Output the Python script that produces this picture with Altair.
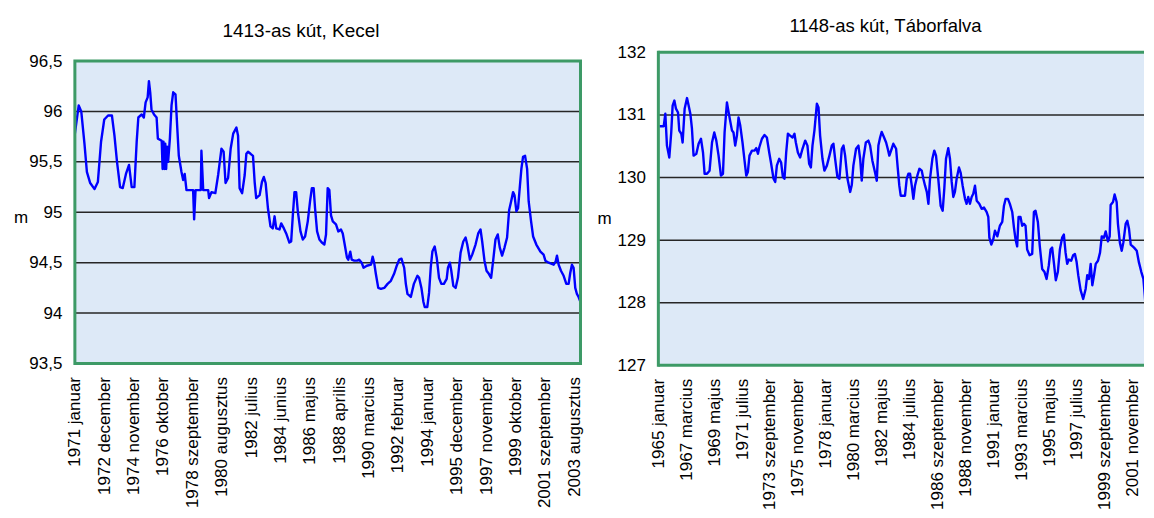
import json
import altair as alt
import pandas as pd

FONT = "Liberation Sans"
BG = "#dde9f7"
GREEN = "#3d9a66"
GRID = "#262626"

LEFT_TITLE = "1413-as kút, Kecel"
RIGHT_TITLE = "1148-as kút, Táborfalva"

LEFT_TICK_LABELS = ["1971 januar", "1972 december", "1974 november", "1976 oktober",
                    "1978 szeptember", "1980 augusztus", "1982 julius", "1984 junius",
                    "1986 majus", "1988 aprilis", "1990 marcius", "1992 februar",
                    "1994 januar", "1995 december", "1997 november", "1999 oktober",
                    "2001 szeptember", "2003 augusztus"]
RIGHT_TICK_LABELS = ["1965 januar", "1967 marcius", "1969 majus", "1971 julius",
                     "1973 szeptember", "1975 november", "1978 januar", "1980 marcius",
                     "1982 majus", "1984 julius", "1986 szeptember", "1988 november",
                     "1991 januar", "1993 marcius", "1995 majus", "1997 julius",
                     "1999 szeptember", "2001 november"]
LEFT_LABEL_STEP = 23   # months between labels
RIGHT_LABEL_STEP = 26

LEFT_Y_TICKS = [93.5, 94, 94.5, 95, 95.5, 96, 96.5]
RIGHT_Y_TICKS = [127, 128, 129, 130, 131, 132]

# months since 1971 januar, water level (m)
LEFT_MONTH = [0, 3, 5, 7.5, 9.4, 12, 15.4, 18, 20.5, 23, 26, 29, 31, 33, 35.4, 37.5, 40, 42.4,
              44.5, 46.6, 48.4, 49.7, 52.3, 54, 55.4, 57, 58, 59, 60, 62, 64, 65, 68, 68.7,
              69.4, 70.1, 70.8, 71.5, 72.2, 73, 74.4, 75.7, 77, 78.8, 80.4, 81.4, 83.5, 84.8,
              86, 87.4, 92.6, 93.4, 94.5, 98.6, 99.1, 100.5, 104.4, 105.1, 107, 110, 112.2,
              114.8, 116.5, 118, 120, 122, 124, 126.5, 127.8, 129, 131, 133, 134.3, 135.6,
              137.6, 139.5, 140.8, 142, 144.7, 146.5, 148, 149.4, 151.2, 153.2, 155, 156.4,
              157.7, 160.3, 161.6, 163.7, 165.5, 168, 169.4, 170.7, 172, 173.3, 174.6, 176.7,
              178.5, 180.3, 182.4, 184.2, 185.6, 187, 188.1, 189.7, 191.5, 193.4, 195.4,
              196.7, 198, 199.3, 200.6, 202, 204.5, 206.3, 208.4, 209.8, 211.6, 213.1, 214.1,
              215.7, 216.8, 218.8, 221, 222.7, 224.6, 226.1, 228.7, 231.9, 233.2, 234.4,
              235.7, 237.6, 239.7, 242.3, 244.9, 247.5, 250, 252.1, 254, 255.8, 257.9, 259.2,
              260.5, 263.1, 265.5, 268.3, 269.6, 271.4, 273, 274, 276, 277.4, 278.7, 280,
              281.8, 283.4, 285.2, 287, 289, 291.2, 292.2, 293.7, 294.8, 296.4, 298.2, 300,
              302.1, 304.2, 306, 307.3, 309.4, 311.2, 313.8, 315.9, 317.7, 319, 320.8, 322.4,
              324.2, 326, 327.6, 329.4, 331.2, 332.8, 334.6, 336.5, 338.5, 340.1, 341.7,
              343.2, 344.3, 345.8, 347.1, 348.4, 349.7, 351, 352.6, 354.2, 355.4, 357.3,
              358.9, 361.4, 364.6, 367.1, 368.5, 371.1, 375, 376.5, 377.6, 378.9, 380.7,
              382.8, 384.9, 386.7, 388, 389.3, 390.6, 391.9, 393.2, 394.5, 396.3]
LEFT_LEVEL = [95.78, 96.06, 96.00, 95.68, 95.40, 95.29, 95.23, 95.30, 95.70, 95.92, 95.96, 95.96,
              95.76, 95.50, 95.25, 95.24, 95.38, 95.47, 95.25, 95.25, 95.70, 95.94, 95.97, 95.94,
              96.09, 96.14, 96.30, 96.19, 96.02, 95.97, 95.94, 95.73, 95.71, 95.43, 95.70,
              95.43, 95.68, 95.43, 95.65, 95.50, 95.73, 96.06, 96.19, 96.17, 95.79, 95.56,
              95.40, 95.32, 95.38, 95.22, 95.22, 94.93, 95.22, 95.22, 95.61, 95.22, 95.22,
              95.14, 95.20, 95.19, 95.37, 95.63, 95.60, 95.29, 95.34, 95.63, 95.78, 95.84,
              95.76, 95.24, 95.19, 95.37, 95.58, 95.60, 95.58, 95.56, 95.30, 95.14, 95.17,
              95.30, 95.35, 95.29, 95.04, 94.86, 94.84, 94.96, 94.84, 94.83, 94.89, 94.84,
              94.79, 94.70, 94.71, 94.97, 95.20, 95.20, 95.01, 94.81, 94.73, 94.76, 94.91,
              95.11, 95.24, 95.24, 95.04, 94.81, 94.73, 94.70, 94.68, 94.78, 95.24, 95.22,
              94.97, 94.91, 94.88, 94.81, 94.83, 94.79, 94.66, 94.55, 94.53, 94.61, 94.53,
              94.52, 94.52, 94.53, 94.50, 94.45, 94.47, 94.48, 94.56, 94.50, 94.39, 94.25,
              94.24, 94.25, 94.29, 94.32, 94.39, 94.47, 94.53, 94.54, 94.45, 94.29, 94.19,
              94.16, 94.29, 94.37, 94.35, 94.25, 94.11, 94.06, 94.06, 94.20, 94.45, 94.61,
              94.66, 94.55, 94.35, 94.29, 94.29, 94.34, 94.45, 94.50, 94.42, 94.27, 94.25,
              94.35, 94.60, 94.71, 94.75, 94.68, 94.53, 94.58, 94.68, 94.79, 94.83, 94.71,
              94.52, 94.42, 94.39, 94.35, 94.52, 94.73, 94.78, 94.65, 94.57, 94.65, 94.75,
              95.02, 95.11, 95.20, 95.17, 95.01, 95.04, 95.24, 95.43, 95.55, 95.56, 95.43,
              95.11, 94.91, 94.76, 94.68, 94.61, 94.58, 94.52, 94.50, 94.48, 94.51, 94.57,
              94.48, 94.42, 94.37, 94.29, 94.29, 94.40, 94.48, 94.45, 94.25, 94.19, 94.16,
              94.10]

# months since 1965 januar, water level (m)
RIGHT_MONTH = [1, 5, 6.5, 8, 10.2, 12, 13.3, 14.9, 16.4, 18.3, 19.5, 21.4, 22.6, 24.5, 26.7,
               28.2, 29.8, 31.3, 32.8, 35.4, 37.5, 39.7, 41.6, 43.1, 45.3, 47.7, 50, 52.1, 54,
               56.1, 58.3, 60.2, 61.7, 63.9, 66, 68.6, 70, 71.6, 73.2, 74.7, 76.3, 78.4, 80.3,
               81.9, 83.4, 84.9, 87.2, 89.6, 91.2, 92.8, 94, 96.5, 98.9, 101.1, 103.3, 105.1,
               107.3, 108.9, 110.4, 112.6, 114.4, 116, 117.5, 119.1, 120.7, 122.8, 125, 126.8,
               128.1, 130, 132.1, 134.3, 136.8, 138.9, 140.5, 142.1, 143.6, 145.4, 147.7,
               149.2, 150.7, 152.9, 154.7, 157, 159.4, 161.6, 163.1, 164.7, 166.8, 168.7,
               170.9, 172.5, 174, 176.2, 178.7, 180.2, 181.7, 184.2, 186.4, 188, 189.5, 191,
               193.3, 195.7, 197.3, 199.4, 201.9, 203.5, 205, 206.6, 208.1, 210.3, 212.2,
               213.7, 215.2, 217.4, 218.9, 221.5, 223, 224.5, 225.8, 229.8, 231.4, 232.9,
               234.5, 236.1, 237.6, 239.1, 241.3, 243.2, 245.4, 246.9, 248.5, 250.1, 251.6,
               253.1, 255.3, 257.1, 258.7, 260.8, 263, 264.9, 266.4, 268, 270.1, 271.7, 273.3,
               274.8, 276.3, 277.9, 280.1, 281.6, 283.5, 285.7, 287.2, 288.7, 290.3, 291.9,
               293.4, 295, 296.6, 299, 301.2, 303.4, 305.8, 307.4, 308.4, 310.2, 312, 313.6,
               315.8, 318.2, 320.4, 322, 323.6, 325.7, 327.5, 329.7, 331.3, 332.8, 334.3,
               335.6, 337.4, 339, 340.6, 342.1, 343.6, 345.9, 348.3, 349.9, 351.4, 353.6,
               355.4, 357.6, 359.8, 361.7, 363.8, 365.4, 366.9, 368.5, 370.3, 372.2, 374.1,
               376.2, 377.8, 379.4, 380.9, 382.5, 384.6, 386.5, 388.1, 389.7, 391.2, 393.4,
               395.8, 398.1, 399.6, 401.2, 402.8, 404.3, 405.9, 407.5, 409.6, 411.5, 413.1,
               415.2, 416.8, 418.9, 420.5, 421.4, 423.6, 425.1, 427, 428.2, 430, 431.7, 433.2,
               435.4, 436.9, 438.5, 440.1, 443.2, 445.7, 447.8, 450, 451.9, 453.2, 454.7,
               456.6, 458.1, 459.3, 460.6, 461.8]
RIGHT_LEVEL = [130.82, 130.82, 131.02, 130.51, 130.32, 130.72, 131.15, 131.23, 131.10, 131.04,
               130.75, 130.70, 130.56, 131.10, 131.27, 131.15, 131.02, 130.78, 130.35, 130.38,
               130.54, 130.62, 130.40, 130.06, 130.06, 130.11, 130.56, 130.72, 130.59, 130.35,
               130.03, 130.06, 130.72, 131.20, 130.99, 130.75, 130.72, 130.51, 130.67, 130.96,
               130.83, 130.56, 130.27, 130.03, 130.09, 130.35, 130.43, 130.43, 130.47, 130.38,
               130.48, 130.62, 130.68, 130.64, 130.40, 130.22, 129.98, 129.93, 130.19, 130.30,
               130.24, 130.01, 129.98, 130.40, 130.70, 130.67, 130.64, 130.70, 130.56, 130.40,
               130.32, 130.46, 130.59, 130.51, 130.22, 130.16, 130.51, 130.75, 131.18, 131.12,
               130.67, 130.30, 130.11, 130.19, 130.35, 130.51, 130.54, 130.30, 130.01, 129.98,
               130.46, 130.51, 130.35, 129.98, 129.77, 129.88, 130.19, 130.46, 130.51, 130.30,
               129.95, 130.30, 130.56, 130.59, 130.51, 130.27, 130.08, 129.95, 130.51, 130.64,
               130.73, 130.64, 130.56, 130.46, 130.35, 130.46, 130.54, 130.46, 130.16, 129.87,
               129.71, 129.71, 129.98, 130.06, 130.06, 129.87, 129.66, 129.87, 130.03, 130.14,
               130.11, 129.98, 129.87, 129.77, 129.58, 129.98, 130.30, 130.43, 130.35, 129.98,
               129.55, 129.47, 129.82, 130.30, 130.47, 130.30, 129.93, 129.69, 129.77, 129.98,
               130.16, 130.08, 129.87, 129.66, 129.58, 129.69, 129.58, 129.69, 129.74, 129.87,
               129.63, 129.58, 129.50, 129.52, 129.45, 129.37, 129.04, 128.93, 129.01, 129.15,
               129.06, 129.23, 129.29, 129.55, 129.66, 129.66, 129.58, 129.45, 129.20, 129.01,
               128.90, 129.37, 129.37, 129.23, 129.26, 129.23, 128.85, 128.76, 128.78, 129.45,
               129.47, 129.29, 128.90, 128.54, 128.49, 128.38, 128.60, 128.85, 128.88, 128.64,
               128.36, 128.49, 128.85, 129.04, 129.09, 128.80, 128.62, 128.69, 128.67, 128.76,
               128.78, 128.65, 128.44, 128.20, 128.06, 128.22, 128.44, 128.38, 128.62, 128.28,
               128.44, 128.62, 128.67, 128.80, 129.06, 129.04, 129.14, 128.98, 129.06, 129.56,
               129.61, 129.73, 129.61, 129.26, 128.96, 128.83, 128.96, 129.26, 129.31, 129.18,
               128.93, 128.88, 128.83, 128.64, 128.49, 128.38, 128.12, 127.77, 127.64, 127.66,
               128.06, 128.12, 127.90]

# left view: 506.5 wide, frame inset 8.7 px below the shared top edge
LW, LH, L_TOP = 506.5, 311.7, 8.7
RW, RH, R_TOP = 486.5, 313.5, 0
PX_PER_MONTH_R = 1.0752


def label_expr(labels, step):
    return f"{json.dumps(labels)}[round(datum.value / {step})]"


def panel(months, levels, x_domain, tick_labels, step, y_ticks, y_expr,
          title, title_size, title_offset, title_dx, title_y, width, height, top_px,
          open_right):
    df = pd.DataFrame({"month": months, "level": levels})
    one = pd.DataFrame({"k": [0]})
    grid_df = pd.DataFrame({"level": y_ticks[1:-1]})
    ylo, yhi = y_ticks[0], y_ticks[-1]
    yscale = alt.Scale(domain=[ylo, yhi], nice=False, zero=False, range=[height, top_px])
    yaxis = alt.Axis(values=y_ticks, labelExpr=y_expr, grid=False, ticks=False,
                     domain=False, labelPadding=13, labelFontSize=17,
                     title="m", titleAngle=0, titleX=-54.5, titleY=title_y,
                     titleAlign="center", titleBaseline="middle",
                     titleFontSize=17, titleFontWeight="normal")
    xaxis = alt.Axis(values=[i * step for i in range(len(tick_labels))],
                     labelExpr=label_expr(tick_labels, step),
                     labelAngle=-90, grid=False, ticks=False, domain=False,
                     labelPadding=13, title=None, labelFontSize=17,
                     labelOverlap=False, labelFlush=False)

    bg = alt.Chart(one).mark_rect(fill=BG).encode(
        x=alt.value(0), x2=alt.value(width),
        y=alt.Y(datum=yhi, scale=yscale, axis=yaxis), y2=alt.Y2(datum=ylo))
    grid = alt.Chart(grid_df).mark_rule(color=GRID, strokeWidth=1.5).encode(
        x=alt.value(0), x2=alt.value(width),
        y=alt.Y("level:Q", scale=yscale, axis=yaxis))
    line = alt.Chart(df).mark_line(color="#0000ff", strokeWidth=2.4, clip=True,
                                   strokeJoin="round").encode(
        x=alt.X("month:Q", scale=alt.Scale(domain=x_domain, nice=False, zero=False),
                axis=xaxis),
        y=alt.Y("level:Q", scale=yscale, axis=yaxis))
    layers = [bg, grid, line]
    if open_right:
        for v in (yhi, ylo):
            layers.append(alt.Chart(one).mark_rule(color=GREEN, strokeWidth=3).encode(
                x=alt.value(0), x2=alt.value(width),
                y=alt.Y(datum=v, scale=yscale, axis=yaxis)))
        layers.append(alt.Chart(one).mark_rule(color=GREEN, strokeWidth=3,
                                               strokeCap="square").encode(
            x=alt.value(0), y=alt.Y(datum=yhi, scale=yscale, axis=yaxis),
            y2=alt.Y2(datum=ylo)))
    else:
        layers.append(alt.Chart(one).mark_rect(filled=False, stroke=GREEN,
                                               strokeWidth=3).encode(
            x=alt.value(0), x2=alt.value(width),
            y=alt.Y(datum=yhi, scale=yscale, axis=yaxis), y2=alt.Y2(datum=ylo)))
    return alt.layer(*layers).properties(
        width=width, height=height,
        title=alt.TitleParams(title, fontSize=title_size, font=FONT, fontWeight="normal",
                              color="black", offset=title_offset, anchor="middle",
                              frame="group", dx=title_dx),
    )


left = panel(LEFT_MONTH, LEFT_LEVEL, [0, 396], LEFT_TICK_LABELS, LEFT_LABEL_STEP,
             LEFT_Y_TICKS, "replace(format(datum.value, '.1~f'), '.', ',')",
             LEFT_TITLE, 19, 11.5, -26.75, 165, LW, LH, L_TOP, False)

right = panel(RIGHT_MONTH, RIGHT_LEVEL, [0, RW / PX_PER_MONTH_R], RIGHT_TICK_LABELS,
              RIGHT_LABEL_STEP, RIGHT_Y_TICKS, "format(datum.value, 'd')",
              RIGHT_TITLE, 18.5, 7.5, -15.75, 166.5, RW, RH, R_TOP, True)

chart = alt.hconcat(left, right, spacing=13.5).properties(
    padding={"left": 5, "top": 9, "right": 0, "bottom": 0}
).configure_view(
    fill="transparent", stroke="transparent", strokeWidth=0
).configure_axis(
    labelFont=FONT, titleFont=FONT, labelColor="black", titleColor="black"
)

chart.save("out.html", embed_options={"renderer": "svg", "actions": False})
